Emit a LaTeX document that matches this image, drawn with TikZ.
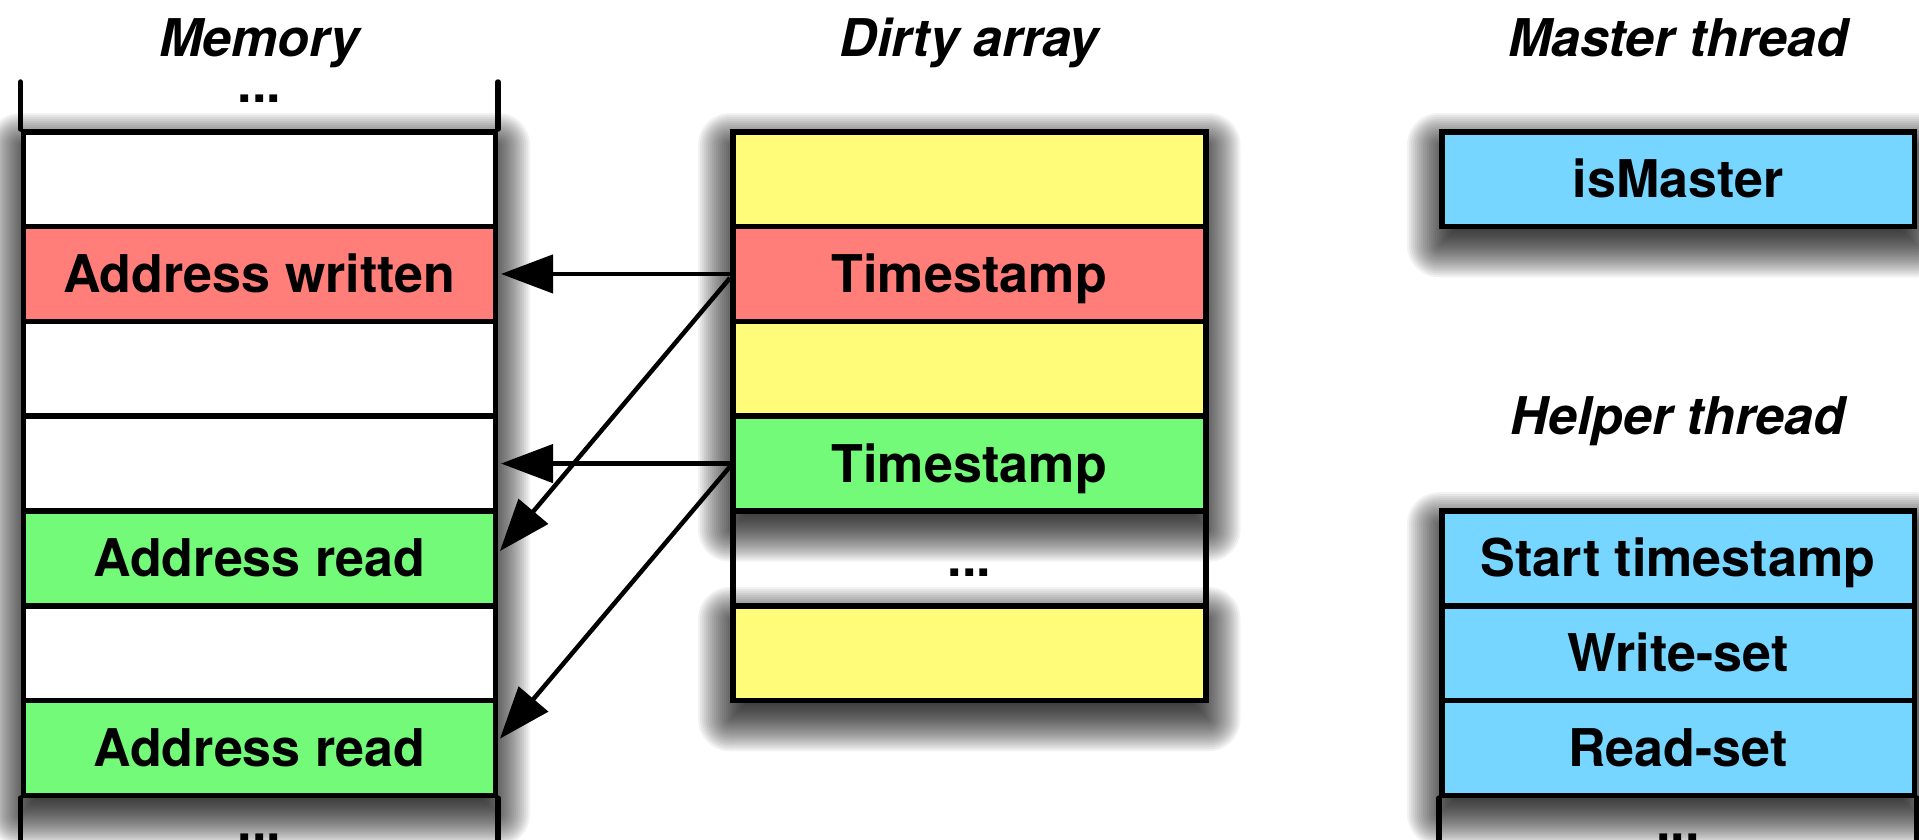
\documentclass[tikz,border=0pt]{standalone}
\usepackage{fontspec}
\setmainfont{TeX Gyre Heros}
\usetikzlibrary{arrows.meta}

\definecolor{salmon}{HTML}{FF7E79}
\definecolor{flora}{HTML}{73FA79}
\definecolor{banana}{HTML}{FFFC79}
\definecolor{sky}{HTML}{76D6FF}

\pgfdeclarelayer{paper}
\pgfdeclarelayer{shadowlayer}
\pgfsetlayers{paper,shadowlayer,main}

\tikzset{
  cell/.style={draw, line width=5.5pt, rectangle, inner sep=0pt,
    minimum height=94.8pt, anchor=north west,
    text height=37pt, text depth=0pt,
    font=\fontsize{52}{62}\selectfont\bfseries},
  memcell/.style={cell, minimum width=472pt},
  dirtycell/.style={cell, minimum width=473pt},
  thrcell/.style={cell, minimum width=472.5pt},
  coltitle/.style={anchor=base, inner sep=0pt,
    font=\fontsize{52}{62}\selectfont\bfseries\itshape},
  ellip/.style={anchor=base, inner sep=0pt,
    font=\fontsize{52}{62}\selectfont\bfseries},
  frameline/.style={line width=5.5pt, line cap=round},
  ptr/.style={line width=4.5pt, -{Triangle[length=52pt,width=38pt]},
    shorten >=3pt},
}

% Soft shadow: stacked translucent rectangles grown/shrunk around a block,
% shifted downwards, giving a blurred edge.
\newcommand{\softshadow}[2]{%
  \foreach \k in {0,...,31}{%
    \pgfmathsetmacro{\ee}{32-2*\k}%
    \pgfmathsetmacro{\rc}{max(\ee,0.5)}%
    \fill[black, opacity=0.05, rounded corners=\rc pt]
      ([xshift=-\ee pt, yshift=\ee pt-16pt]#1) rectangle
      ([xshift=\ee pt, yshift=-\ee pt-16pt]#2);
  }%
}

\begin{document}
\begin{tikzpicture}[x=1pt,y=-1pt]
\useasboundingbox (0,0) rectangle (1919,839);
\begin{pgfonlayer}{paper}
  \fill[white] (0,0) rectangle (1919,839);
\end{pgfonlayer}

% Memory column
\node[memcell, fill=white]  (m1) at (20.5,129)   {};
\node[memcell, fill=salmon] (m2) at (20.5,223.8) {Address written};
\node[memcell, fill=white]  (m3) at (20.5,318.6) {};
\node[memcell, fill=white]  (m4) at (20.5,413.4) {};
\node[memcell, fill=flora]  (m5) at (20.5,508.2) {Address read};
\node[memcell, fill=white]  (m6) at (20.5,603)   {};
\node[memcell, fill=flora]  (m7) at (20.5,697.8) {Address read};
\draw[frameline] (m1.north west) -- ++(0,-47);
\draw[frameline] (m1.north east) -- ++(0,-47);
\draw[frameline] (m7.south west) -- ++(0,60);
\draw[frameline] (m7.south east) -- ++(0,60);
\node[ellip] (mdtop) at ([yshift=27pt]m1.north) {...};
\node[ellip] (mdbot) at ([yshift=-43pt]m7.south) {...};
\node[coltitle] (tmem) at ([yshift=73pt]m1.north) {Memory};

% Dirty array column
\node[dirtycell, fill=banana] (d1) at (730,129)   {};
\node[dirtycell, fill=salmon] (d2) at (730,223.8) {Timestamp};
\node[dirtycell, fill=banana] (d3) at (730,318.6) {};
\node[dirtycell, fill=flora]  (d4) at (730,413.4) {Timestamp};
\node[dirtycell]              (d5) at (730,508.2) {...};
\node[dirtycell, fill=banana] (d6) at (730,603)   {};
\node[coltitle] (tdirty) at ([yshift=73pt]d1.north) {Dirty array};

% Master thread
\node[thrcell, fill=sky] (ms) at (1439,129) {isMaster};
\node[coltitle] (tmaster) at ([yshift=73pt]ms.north) {Master thread};

% Helper thread
\node[thrcell, fill=sky] (h1) at (1439,508.2) {Start timestamp};
\node[thrcell, fill=sky] (h2) at (1439,603)   {Write-set};
\node[thrcell, fill=sky] (h3) at (1439,697.8) {Read-set};
\draw[frameline] (h3.south west) -- ++(0,60);
\draw[frameline] (h3.south east) -- ++(0,60);
\node[ellip] (hdbot) at ([yshift=-43pt]h3.south) {...};
\node[coltitle] (thelper) at ([yshift=74pt]h1.north) {Helper thread};

% Drop shadows under the filled blocks
\begin{pgfonlayer}{shadowlayer}
  \softshadow{m1.north west}{m7.south east}
  \softshadow{d1.north west}{d4.south east}
  \softshadow{d6.north west}{d6.south east}
  \softshadow{ms.north west}{ms.south east}
  \softshadow{h1.north west}{h3.south east}
\end{pgfonlayer}

% Pointers from timestamps to memory
\draw[ptr] (d2.west) -- (m2.east);
\draw[ptr] ([yshift=-4pt]d2.west) -- ([yshift=5pt]m5.east);
\draw[ptr] (d4.west) -- (m4.east);
\draw[ptr] ([yshift=-3pt]d4.west) -- ([yshift=7pt]m7.east);
\end{tikzpicture}
\end{document}
